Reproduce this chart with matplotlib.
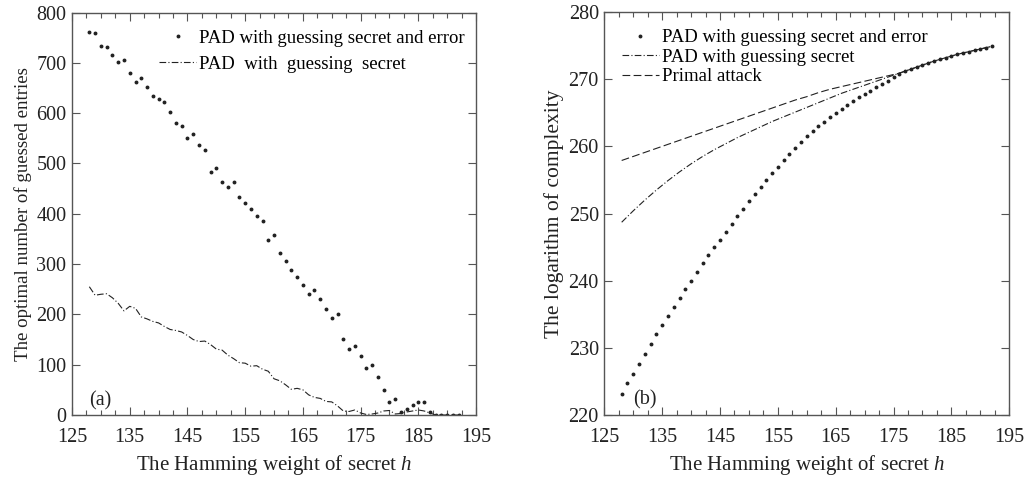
import matplotlib
matplotlib.use("Agg")
import matplotlib.pyplot as plt
from matplotlib.ticker import MultipleLocator
import numpy as np

plt.rcParams["font.family"] = "Liberation Serif"
plt.rcParams["mathtext.fontset"] = "custom"
plt.rcParams["mathtext.rm"] = "Liberation Serif"
plt.rcParams["mathtext.it"] = "Liberation Serif:italic"

# ---- data, panel (a) ----
h_a = list(range(128, 193))
guess_err = [761, 759, 734, 731, 716, 701, 706, 680, 662, 670,
             652, 635, 628, 622, 602, 580, 575, 550, 559, 536,
             527, 484, 490, 463, 454, 463, 433, 421, 409, 396,
             385, 348, 357, 322, 307, 289, 274, 258, 240, 249,
             231, 211, 192, 201, 152, 132, 138, 117, 93, 99,
             75, 50, 26, 32, 6, 12, 20, 26, 26, 6,
             0, 0, 0, 0, 0]
guess_sec = [255, 238, 240, 241, 233, 222, 207, 216, 212, 195,
             191, 186, 183, 176, 170, 168, 165, 158, 150, 146,
             147, 140, 131, 129, 119, 112, 104, 103, 97, 98,
             91, 87, 72, 68, 60, 51, 53, 50, 40, 35,
             33, 27, 26, 18, 8, 7, 10, 4, 1, 2,
             4, 8, 9, 2, 3, 6, 8, 10, 8, 4,
             0, 0, 0, 0, 0]

# ---- data, panel (b) ----
h_b = list(range(128, 193))
cplx_err = [223.1, 224.7, 226.1, 227.6, 229.1, 230.6, 232.0, 233.4, 234.8, 236.1,
            237.4, 238.8, 240.0, 241.3, 242.6, 243.8, 245.0, 246.1, 247.3, 248.4,
            249.6, 250.7, 251.8, 252.9, 253.9, 255.0, 256.0, 257.0, 258.0, 258.9,
            259.8, 260.7, 261.5, 262.3, 263.0, 263.7, 264.4, 265.0, 265.6, 266.2,
            266.8, 267.3, 267.8, 268.3, 268.8, 269.3, 269.8, 270.3, 270.8, 271.2,
            271.5, 271.8, 272.1, 272.4, 272.7, 273.0, 273.2, 273.5, 273.7, 273.9,
            274.1, 274.3, 274.5, 274.7, 274.9]
h_line = list(range(128, 193, 2))
cplx_sec = [248.7, 250.4, 252.0, 253.5, 254.9, 256.2, 257.4, 258.5, 259.5, 260.4,
            261.3, 262.1, 262.9, 263.7, 264.4, 265.1, 265.8, 266.5, 267.2, 267.9,
            268.5, 269.1, 269.7, 270.3, 270.9, 271.5, 272.1, 272.7, 273.2, 273.7,
            274.1, 274.5, 274.9]
cplx_primal = [257.9, 258.5, 259.1, 259.7, 260.3, 260.9, 261.5, 262.1, 262.7, 263.3,
               263.9, 264.5, 265.1, 265.7, 266.3, 266.9, 267.4, 268.0, 268.5, 268.9,
               269.3, 269.7, 270.1, 270.5, 270.9, 271.5, 272.1, 272.7, 273.2, 273.7,
               274.1, 274.5, 274.9]

ink = "#222222"
fig = plt.figure(figsize=(10.26, 4.82), dpi=100)
ax1 = fig.add_axes([0.0702, 0.139, 0.3938, 0.835])
ax2 = fig.add_axes([0.589, 0.139, 0.3947, 0.836])


def style(a):
    a.set_xlim(125, 195)
    a.xaxis.set_major_locator(MultipleLocator(10))
    a.xaxis.set_minor_locator(MultipleLocator(2.5))
    a.tick_params(which="both", direction="in", top=True, right=True,
                  labelsize=14.5, colors="#555555", labelcolor=ink)
    a.tick_params(axis="x", pad=9)
    a.tick_params(axis="y", pad=4)
    a.tick_params(which="major", length=6, width=0.8)
    a.tick_params(which="minor", length=3.5, width=0.8)
    for s in a.spines.values():
        s.set_color("#555555")
        s.set_linewidth(1.0)
    a.set_xlabel("The Hamming weight of secret $h$", fontsize=15, color=ink, labelpad=5)


# (a)
ax1.plot(h_a, guess_err, ls="none", marker="o", ms=1.8, color=ink,
         label="PAD with guessing secret and error")
ax1.plot(h_a, guess_sec, ls=(0, (6, 2, 1, 2)), lw=0.8, color=ink,
         label="PAD  with  guessing  secret")
ax1.set_ylim(0, 800)
ax1.yaxis.set_major_locator(MultipleLocator(100))
style(ax1)
ax1.set_xticks(np.arange(125, 196, 10))
ax1.set_ylabel("The optimal number of guessed entries", fontsize=13.6, color=ink, labelpad=3)
ax1.legend(loc="upper right", bbox_to_anchor=(1.0, 0.986), frameon=False, fontsize=13.5,
           handlelength=2.0, handletextpad=0.15, labelspacing=0.5, borderaxespad=0.2)
ax1.text(128, 18, "(a)", fontsize=14.5, color=ink)

# (b)
ax2.plot(h_b, cplx_err, ls="none", marker="o", ms=1.8, color=ink,
         label="PAD with guessing secret and error")
ax2.plot(h_line, cplx_sec, ls=(0, (6, 2, 1, 2)), lw=0.8, color=ink,
         label="PAD with guessing secret")
ax2.plot(h_line, cplx_primal, ls=(0, (7, 3)), lw=0.8, color=ink,
         label="Primal attack")
ax2.set_ylim(220, 280)
ax2.yaxis.set_major_locator(MultipleLocator(10))
style(ax2)
ax2.set_xticks(np.arange(125, 196, 10))
ax2.set_ylabel("The logarithm of complexity", fontsize=15.5, color=ink, labelpad=3)
ax2.legend(loc="upper left", bbox_to_anchor=(0.015, 0.985), frameon=False, fontsize=13.5,
           handlelength=2.0, handletextpad=0.15, labelspacing=0.12, borderaxespad=0.2)
ax2.text(130, 221.6, "(b)", fontsize=14.5, color=ink)

fig.savefig("out.png", dpi=100)
